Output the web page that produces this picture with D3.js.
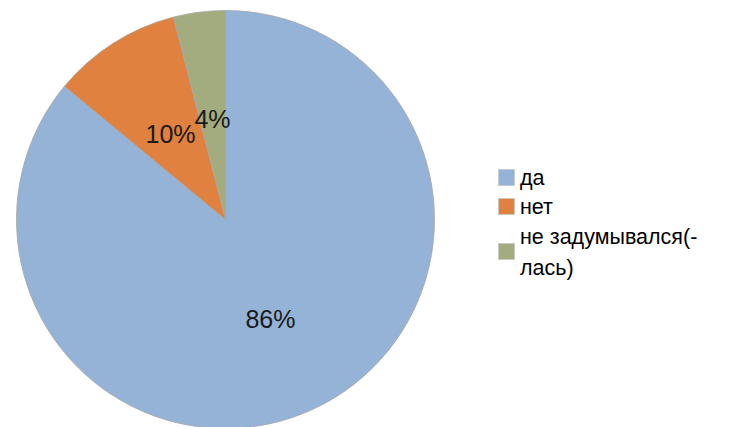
<!DOCTYPE html>
<html><head><meta charset="utf-8">
<script src="https://cdn.jsdelivr.net/npm/d3@7"></script>
<style>body{margin:0;background:#fff}</style>
</head><body>
<script>
const categories = ["да", "нет", "не задумывался(-лась)"];
const legendLines = [["да"], ["нет"], ["не задумывался(-", "лась)"]];
const values = [86, 10, 4];
const colors = ["#95B3D7", "#E0813F", "#A3AC7F"];

const W = 747, H = 427;
const svg = d3.select("body").append("svg").attr("width", W).attr("height", H);
const cx = 225.5, cy = 219.5, R = 209;
const g = svg.append("g").attr("transform", `translate(${cx},${cy})`);

const pie = d3.pie().sort(null).value(d => d)(values);
const arc = d3.arc().innerRadius(0).outerRadius(R);
g.selectAll("path").data(pie).join("path")
  .attr("d", arc)
  .attr("fill", (d, i) => colors[i])
  .attr("stroke", "#a6a6a6").attr("stroke-width", 0.8);

const labelPos = [[45, 99], [-55, -86], [-13, -101]];
g.selectAll("text.lbl").data(pie).join("text")
  .attr("class", "lbl")
  .attr("x", (d, i) => labelPos[i][0])
  .attr("y", (d, i) => labelPos[i][1])
  .attr("text-anchor", "middle")
  .attr("dominant-baseline", "central")
  .attr("font-family", "Liberation Sans, Arial, sans-serif")
  .attr("font-size", 25)
  .attr("fill", "#1a1a1a")
  .text(d => d.value + "%");

const lg = svg.append("g");
const rowY = [178, 207, 252];
const lineH = 31;
categories.forEach((c, i) => {
  lg.append("rect").attr("x", 498.5).attr("y", rowY[i] - 8.5).attr("width", 16).attr("height", 16)
    .attr("fill", colors[i]).attr("stroke", "#c8c8c8").attr("stroke-width", 0.8);
  const lines = legendLines[i];
  const startY = rowY[i] - (lines.length - 1) * lineH / 2;
  lines.forEach((t, j) => {
    lg.append("text").attr("x", 520).attr("y", startY + j * lineH)
      .attr("dominant-baseline", "central")
      .attr("font-family", "Liberation Sans, Arial, sans-serif")
      .attr("font-size", 21.5).attr("fill", "#000").text(t);
  });
});
</script>
</body></html>
